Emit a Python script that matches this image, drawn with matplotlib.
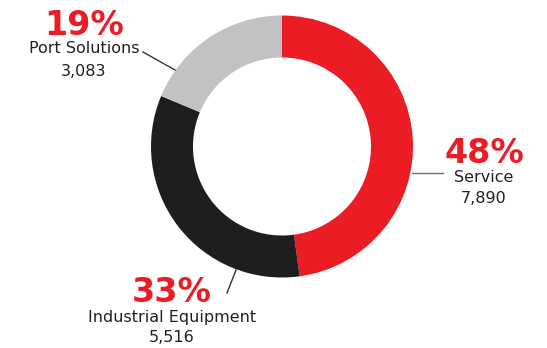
import matplotlib.pyplot as plt

# segment data
segments = ["Service", "Industrial Equipment", "Port Solutions"]
values = [7890, 5516, 3083]
colors = ["#ec1c24", "#1e1e1c", "#c1c2c4"]

W, H = 547, 348
fig = plt.figure(figsize=(W / 100, H / 100), dpi=100)
ax = fig.add_axes([0, 0, 1, 1])

# donut, starts at 12 o'clock and goes clockwise
cx, cy, r = 282, H - 146.5, 131
ax.pie(values, colors=colors, startangle=90, counterclock=False,
       center=(cx, cy), radius=r,
       wedgeprops=dict(width=42, linewidth=0))
ax.set_xlim(0, W)
ax.set_ylim(0, H)
ax.set_aspect("equal")
ax.axis("off")

total = sum(values)
pcts = [f"{round(v / total * 100)}%" for v in values]

# label layout in pixels from top-left: x centre, baselines of pct / name / value
label_pos = {
    "Service": (484, 163, 182, 203),
    "Industrial Equipment": (172, 302, 322, 342),
    "Port Solutions": (84, 35, 53, 76),
}
leaders = {
    "Service": ((412, 172.5), (443, 172.5), "#6e6e6e"),
    "Industrial Equipment": ((236, 270), (227, 293), "#333333"),
    "Port Solutions": ((143, 52), (175, 70), "#333333"),
}

for name, val, pct in zip(segments, values, pcts):
    x, yp, yn, yv = label_pos[name]
    ax.text(x, H - yp, pct, ha="center", va="baseline", fontsize=24,
            fontweight="bold", color="#ec1c24")
    ax.text(x, H - yn, name, ha="center", va="baseline", fontsize=11.5,
            color="#231f20")
    ax.text(x, H - yv, f"{val:,}", ha="center", va="baseline", fontsize=11.5,
            color="#231f20")
    (x0, y0), (x1, y1), lc = leaders[name]
    ax.plot([x0, x1], [H - y0, H - y1], color=lc, lw=1)

fig.savefig("out.png", dpi=100)
